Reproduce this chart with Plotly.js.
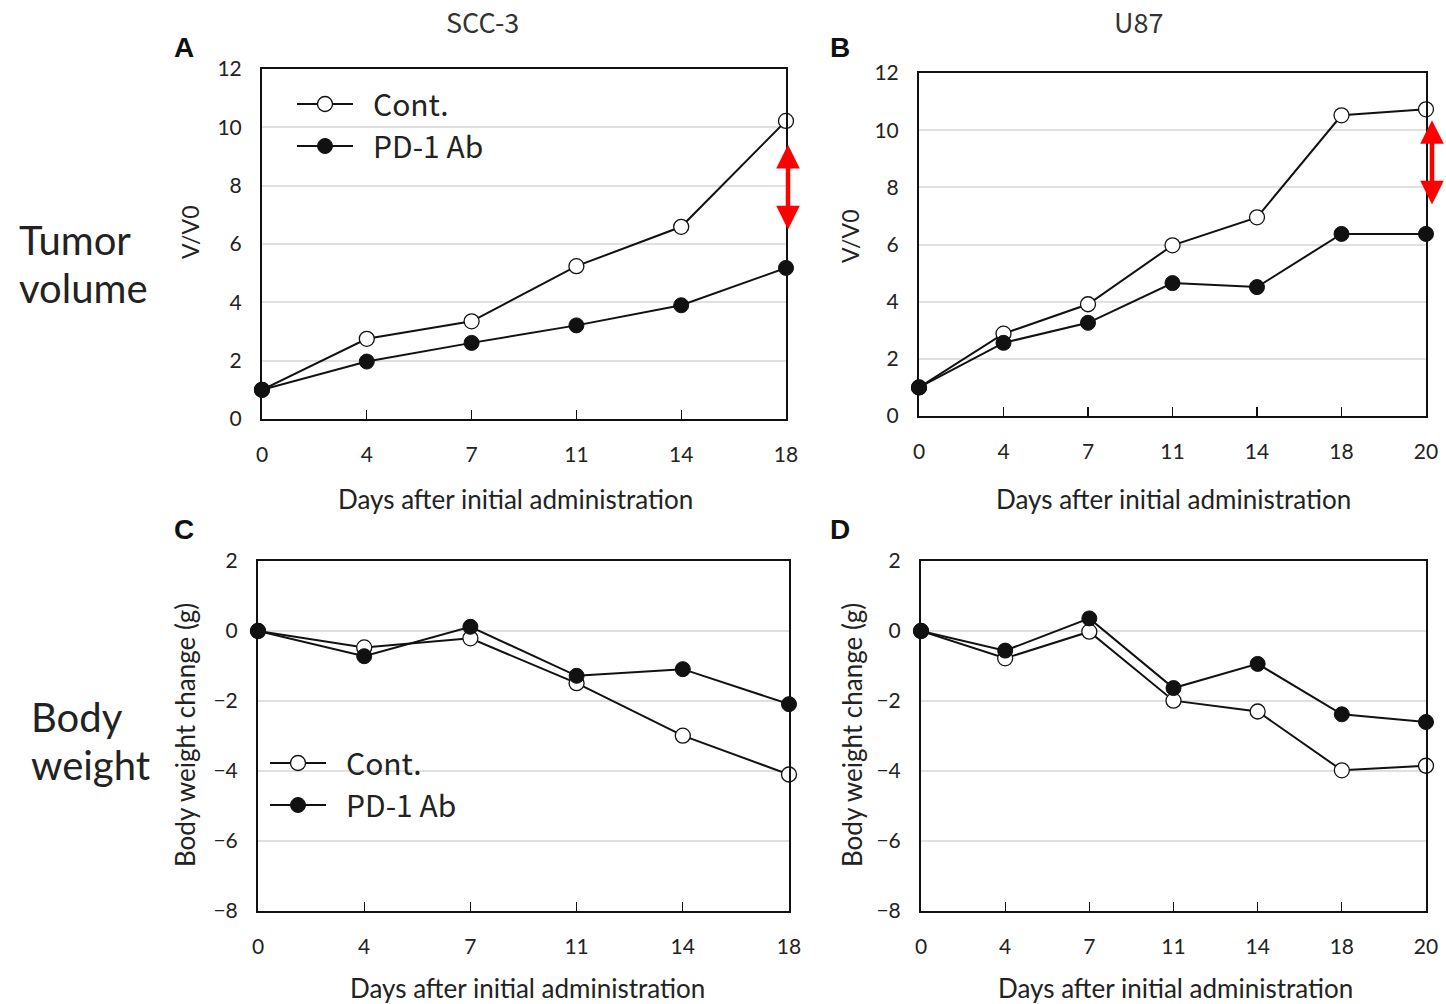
<!DOCTYPE html>
<html>
<head>
<meta charset="utf-8">
<script src="https://cdn.plot.ly/plotly-3.0.1.min.js"></script>
<style>html,body{margin:0;padding:0;background:#fff;}#chart{width:1446px;height:1004px;}</style>
</head>
<body>
<div id="chart"></div>
<script>
// ---- data ----
const daysSCC = ['0', '4', '7', '11', '14', '18'];
const daysU87 = ['0', '4', '7', '11', '14', '18', '20'];

const tumorSCC_Cont = [1, 2.75, 3.35, 5.24, 6.59, 10.22];
const tumorSCC_PD1  = [1, 1.97, 2.61, 3.21, 3.9, 5.18];

const tumorU87_Cont = [1, 2.88, 3.91, 5.97, 6.95, 10.52, 10.73];
const tumorU87_PD1  = [1, 2.56, 3.26, 4.65, 4.51, 6.37, 6.37];

const bwSCC_Cont = [0, -0.47, -0.21, -1.49, -2.99, -4.1];
const bwSCC_PD1  = [0, -0.72, 0.12, -1.28, -1.09, -2.09];

const bwU87_Cont = [0, -0.78, -0.02, -1.99, -2.3, -3.98, -3.85];
const bwU87_PD1  = [0, -0.56, 0.36, -1.63, -0.94, -2.38, -2.6];

const seriesNames = ['Cont.', 'PD-1 Ab'];
const panelTitles = ['SCC-3', 'U87'];
const rowLabels = [['Tumor', 'volume'], ['Body', 'weight']];

// ---- styles ----
const TXT = '#222';
const TICKFONT = {family: 'Lato, "Open Sans", sans-serif', size: 21, color: TXT};
const LEGFONT = {family: '"Noto Sans CJK JP", "Noto Sans", sans-serif', size: 30, color: TXT};
const PAD = '\u2002';

function contTrace(x, y, xa, ya, legend, show) {
  return {x: x, y: y, xaxis: xa, yaxis: ya, type: 'scatter', mode: 'lines+markers',
    name: PAD + seriesNames[0], legend: legend, showlegend: show, cliponaxis: false,
    line: {color: '#111', width: 2},
    marker: {symbol: 'circle', size: 15, color: '#fff', line: {color: '#111', width: 1.3}}};
}
function pdTrace(x, y, xa, ya, legend, show) {
  return {x: x, y: y, xaxis: xa, yaxis: ya, type: 'scatter', mode: 'lines+markers',
    name: PAD + seriesNames[1], legend: legend, showlegend: show, cliponaxis: false,
    line: {color: '#111', width: 2},
    marker: {symbol: 'circle', size: 15, color: '#111', line: {color: '#111', width: 1}}};
}

const data = [
  contTrace(daysSCC, tumorSCC_Cont, 'x', 'y', 'legend', true),
  pdTrace(daysSCC, tumorSCC_PD1, 'x', 'y', 'legend', true),
  contTrace(daysU87, tumorU87_Cont, 'x2', 'y2', 'legend', false),
  pdTrace(daysU87, tumorU87_PD1, 'x2', 'y2', 'legend', false),
  contTrace(daysSCC, bwSCC_Cont, 'x3', 'y3', 'legend2', true),
  pdTrace(daysSCC, bwSCC_PD1, 'x3', 'y3', 'legend2', true),
  contTrace(daysU87, bwU87_Cont, 'x4', 'y4', 'legend2', false),
  pdTrace(daysU87, bwU87_PD1, 'x4', 'y4', 'legend2', false)
];

const W = 1446, H = 1004;
function px(v) { return v / W; }
function py(v) { return 1 - v / H; }

function xaxis(dom, n, anchor) {
  return {domain: dom, anchor: anchor, type: 'category', range: [0, n - 1],
    showline: true, mirror: true, linecolor: '#111', linewidth: 2,
    ticks: 'inside', ticklen: 9, tickwidth: 1.3, tickcolor: '#111',
    showgrid: false, zeroline: false, tickfont: TICKFONT, ticklabelstandoff: 16,
    fixedrange: true};
}
function yaxis(dom, range, anchor) {
  return {domain: dom, anchor: anchor, range: range, dtick: 2,
    showline: true, mirror: true, linecolor: '#111', linewidth: 2,
    ticks: '', showgrid: true, gridcolor: '#e0e0e0', gridwidth: 2, zeroline: false,
    tickfont: TICKFONT, ticklabelstandoff: 14, fixedrange: true};
}

function ann(text, x, y, size, opts) {
  return Object.assign({text: text, x: px(x), y: py(y), xref: 'paper', yref: 'paper',
    showarrow: false, xanchor: 'center', yanchor: 'middle',
    font: {family: 'Lato, "Open Sans", sans-serif', size: size, color: TXT}}, opts || {});
}
const jp = '"Noto Sans CJK JP", "Noto Sans", sans-serif';
const bold = '"Liberation Sans", Arial, sans-serif';
const rowFont = {family: 'Lato, "Open Sans", sans-serif', size: 40, color: '#222'};

function doubleArrow(xa, ya, cat, yTop, yBot, shift) {
  return {xref: xa, yref: ya, axref: xa, ayref: ya, x: cat, y: yTop, ax: cat, ay: yBot,
    text: '', showarrow: true, arrowside: 'end+start', arrowhead: 2, startarrowhead: 2,
    arrowsize: 1.05, startarrowsize: 1.05, arrowwidth: 4.5, arrowcolor: '#ff0000', xshift: shift};
}

const annotations = [
  ann(panelTitles[0], 483, 22, 27, {font: {family: jp, size: 27, color: '#333'}}),
  ann(panelTitles[1], 1138, 22, 27, {font: {family: jp, size: 27, color: '#333'}}),
  ann('<b>A</b>', 184, 48, 28, {font: {family: bold, size: 28, color: '#111'}}),
  ann('<b>B</b>', 840, 48, 28, {font: {family: bold, size: 28, color: '#111'}}),
  ann('<b>C</b>', 184, 529, 28, {font: {family: bold, size: 28, color: '#111'}}),
  ann('<b>D</b>', 840, 529, 28, {font: {family: bold, size: 28, color: '#111'}}),
  ann(rowLabels[0][0], 17, 240, 40, {xanchor: 'left', font: rowFont}),
  ann(rowLabels[0][1], 17, 288, 40, {xanchor: 'left', font: rowFont}),
  ann(rowLabels[1][0], 29, 717, 40, {xanchor: 'left', font: rowFont}),
  ann(rowLabels[1][1], 29, 765, 40, {xanchor: 'left', font: rowFont}),
  ann('Days after initial administration', 515, 499, 26),
  ann('Days after initial administration', 1173, 499, 26),
  ann('Days after initial administration', 527, 988, 26),
  ann('Days after initial administration', 1175, 988, 26),
  ann('V/V0', 190, 232, 23, {textangle: -90}),
  ann('V/V0', 850, 236, 23, {textangle: -90}),
  ann('Body weight change (g)', 185, 735, 26, {textangle: -90}),
  ann('Body weight change (g)', 852, 735, 26, {textangle: -90}),
  // red double arrows at the last day of each tumour panel
  doubleArrow('x', 'y', daysSCC.length - 1, 9.4, 6.45, 2),
  doubleArrow('x2', 'y2', daysU87.length - 1, 10.35, 7.35, 6)
];

const layout = {
  width: W, height: H,
  margin: {l: 0, r: 0, t: 0, b: 0},
  paper_bgcolor: '#fff', plot_bgcolor: '#fff',
  xaxis: xaxis([px(262), px(786)], daysSCC.length, 'y'),
  yaxis: yaxis([py(419), py(69)], [0, 12], 'x'),
  xaxis2: xaxis([px(919), px(1426)], daysU87.length, 'y2'),
  yaxis2: yaxis([py(416), py(73)], [0, 12], 'x2'),
  xaxis3: xaxis([px(258), px(789)], daysSCC.length, 'y3'),
  yaxis3: yaxis([py(911), py(561)], [-8, 2], 'x3'),
  xaxis4: xaxis([px(921), px(1426)], daysU87.length, 'y4'),
  yaxis4: yaxis([py(911), py(561)], [-8, 2], 'x4'),
  legend: {x: px(292), y: py(78), xanchor: 'left', yanchor: 'top', bgcolor: 'rgba(0,0,0,0)',
    font: LEGFONT, itemwidth: 56, tracegroupgap: 0, borderwidth: 0},
  legend2: {x: px(265), y: py(737), xanchor: 'left', yanchor: 'top', bgcolor: 'rgba(0,0,0,0)',
    font: LEGFONT, itemwidth: 56, tracegroupgap: 0, borderwidth: 0},
  annotations: annotations,
  showlegend: true
};

Plotly.newPlot('chart', data, layout, {displayModeBar: false, staticPlot: true});
</script>
</body>
</html>
